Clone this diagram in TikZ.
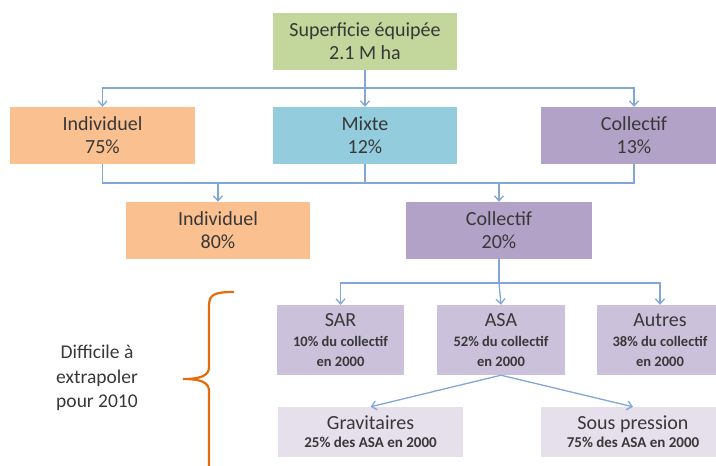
\documentclass[tikz,border=0pt]{standalone}
\usepackage{fontspec}
\setmainfont{Carlito}
\usetikzlibrary{arrows.meta}

\definecolor{vert}{RGB}{195,214,155}
\definecolor{orange}{RGB}{250,192,144}
\definecolor{bleu}{RGB}{147,205,221}
\definecolor{violet}{RGB}{179,162,199}
\definecolor{violetclair}{RGB}{204,193,218}
\definecolor{violetpale}{RGB}{230,224,236}
\definecolor{trait}{RGB}{130,166,214}
\definecolor{accolade}{RGB}{228,108,10}
\definecolor{texte}{RGB}{56,56,56}

\newcommand{\petit}[1]{{\fontsize{14.5}{19.5}\bfseries\selectfont #1}}
\newcommand{\moyen}[1]{{\fontsize{15}{18}\bfseries\selectfont #1}}

\begin{document}
\begin{tikzpicture}[x=1pt,y=-1pt,
    boite/.style={inner sep=0pt, align=center, text=texte,
        font=\fontsize{20}{23}\selectfont},
    lien/.style={trait, line width=1.3pt},
    fleche/.style={lien, -{Straight Barb[length=5pt,width=9pt]}}]

        % Page
        \useasboundingbox (0,0) rectangle (716,466);

        % Top box
        \node[boite, fill=vert, minimum width=184pt, minimum height=57pt] (total) at (365,41) {Superficie équipée\\2.1 M ha};

        % Second row
        \node[boite, fill=orange, minimum width=185pt, minimum height=57pt] (indiv1) at (102.5,135.5) {Individuel\\75\%};
        \node[boite, fill=bleu, minimum width=184pt, minimum height=57pt] (mixte) at (365,135.5) {Mixte\\12\%};
        \node[boite, fill=violet, minimum width=186pt, minimum height=57pt] (coll1) at (634,135.5) {Collectif\\13\%};

        % Third row
        \node[boite, fill=orange, minimum width=184pt, minimum height=57pt] (indiv2) at (218,230.5) {Individuel\\80\%};
        \node[boite, fill=violet, minimum width=186pt, minimum height=57pt] (coll2) at (499,230.5) {Collectif\\20\%};

        % Fourth row
        \node[boite, fill=violetclair, minimum width=127pt, minimum height=70pt, font=\fontsize{20}{20}\selectfont] (sar) at (340.5,340) {SAR\\\petit{10\% du collectif}\\\petit{en 2000}};
        \node[boite, fill=violetclair, minimum width=128pt, minimum height=70pt, font=\fontsize{20}{20}\selectfont] (asa) at (501,340) {ASA\\\petit{52\% du collectif}\\\petit{en 2000}};
        \node[boite, fill=violetclair, minimum width=126pt, minimum height=70pt, font=\fontsize{20}{20}\selectfont] (autres) at (660,340) {Autres\\\petit{38\% du collectif}\\\petit{en 2000}};

        % Fifth row
        \node[boite, fill=violetpale, minimum width=185pt, minimum height=50pt, font=\fontsize{20}{18}\selectfont] (grav) at (370.5,432) {Gravitaires\\\moyen{25\% des ASA en 2000}};
        \node[boite, fill=violetpale, minimum width=184pt, minimum height=50pt, font=\fontsize{20}{18}\selectfont] (press) at (633,432) {Sous pression\\\moyen{75\% des ASA en 2000}};

        % Junction points
        \coordinate (j1) at (365,88);
        \coordinate (j2) at (365,183);
        \coordinate (j3) at (499,283);

        % Links from top box
        \draw[lien] (total.south) -- (j1);
        \draw[fleche] (j1) -| (indiv1.north);
        \draw[fleche] (j1) -- (mixte.north);
        \draw[fleche] (j1) -| (coll1.north);

        % Links to third row
        \draw[lien] (indiv1.south) |- (j2);
        \draw[lien] (mixte.south) -- (j2);
        \draw[lien] (coll1.south) |- (j2);
        \draw[fleche] (j2) -| (indiv2.north);
        \draw[fleche] (j2) -| (coll2.north);

        % Links to fourth row
        \draw[lien] (coll2.south) -- (j3);
        \draw[fleche] (j3) -| (sar.north);
        \draw[fleche] (j3) -- (asa.north);
        \draw[fleche] (j3) -| (autres.north);

        % Links to fifth row
        \draw[fleche] (asa.south) -- (grav.north);
        \draw[fleche] (asa.south) -- (press.north);

        % Brace and note
        \draw[accolade, line width=2.2pt] (234,292) .. controls (215,292) and (209,294) .. (209,306) -- (209,367) .. controls (209,376) and (200,379) .. (183,379) .. controls (200,379) and (209,382) .. (209,391) -- (209,476);
        \node[align=center, text=texte, font=\fontsize{19.5}{24.5}\selectfont] (note) at (97,378) {Difficile à\\extrapoler\\pour 2010};
    \end{tikzpicture}
\end{document}
